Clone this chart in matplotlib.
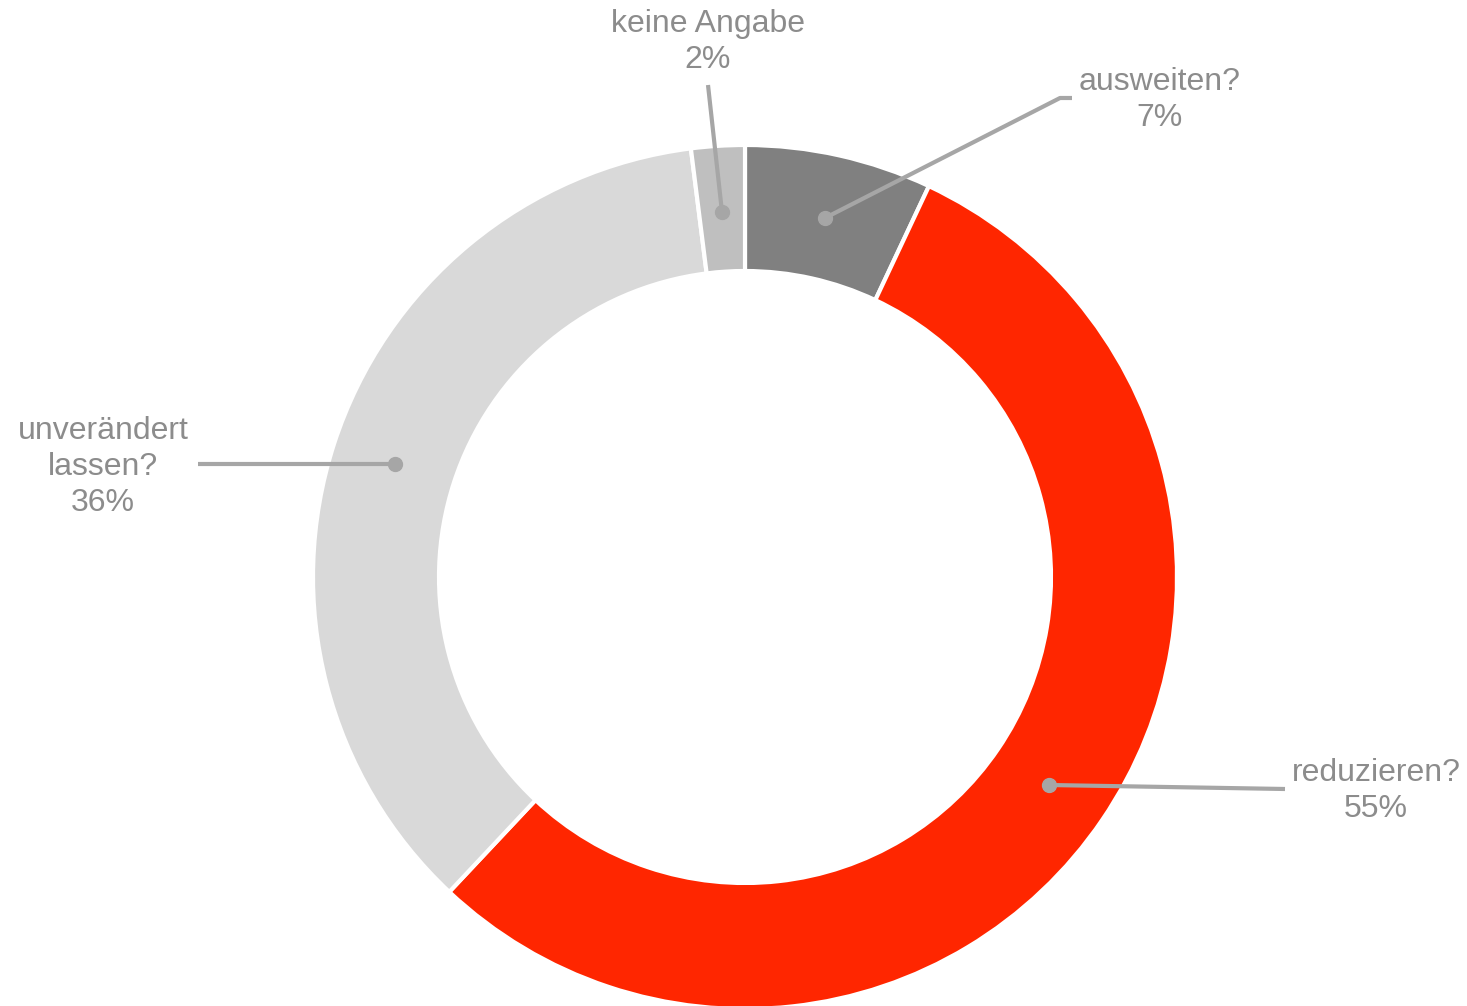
import matplotlib
matplotlib.use("Agg")
import matplotlib.pyplot as plt

# data
labels = ["ausweiten?", "reduzieren?", "unverändert\nlassen?", "keine Angabe"]
shares = [7, 55, 36, 2]
colors = ["#808080", "#FF2600", "#D9D9D9", "#BFBFBF"]

W, H = 1467, 1006
fig = plt.figure(figsize=(W / 100, H / 100), dpi=100)
ax = fig.add_axes([0, 0, 1, 1])

cx, cy = 745, H - 577
R = 432
ax.pie(shares, colors=colors, startangle=90, counterclock=False,
       center=(cx, cy), radius=R, frame=True,
       wedgeprops=dict(width=126, edgecolor="white", linewidth=3))
ax.set_xlim(0, W)
ax.set_ylim(0, H)
ax.set_aspect("equal")
ax.axis("off")

line_col = "#A6A6A6"
text_col = "#8C8C8C"
fs = 23

# leader lines: dot, elbow points, text centre (pixels from top)
callouts = [
    ((825, 218), [(1060, 98), (1072, 98)], (1160, 100)),
    ((1049, 785), [(1285, 789)], (1376, 791)),
    ((395, 464), [(198, 464)], (103, 467)),
    ((722, 212), [(708, 85)], (708, 42)),
]

for lab, val, (dot, pts, tpos) in zip(labels, shares, callouts):
    xs = [dot[0]] + [p[0] for p in pts]
    ys = [H - dot[1]] + [H - p[1] for p in pts]
    ax.plot(xs, ys, color=line_col, lw=3, solid_capstyle="butt", zorder=5)
    ax.plot(dot[0], H - dot[1], "o", color=line_col, ms=10, zorder=6)
    ax.text(tpos[0], H - tpos[1], f"{lab}\n{val}%", ha="center", va="center",
            color=text_col, fontsize=fs, linespacing=1.25, family="Liberation Sans")

fig.savefig("out.png", dpi=100)
